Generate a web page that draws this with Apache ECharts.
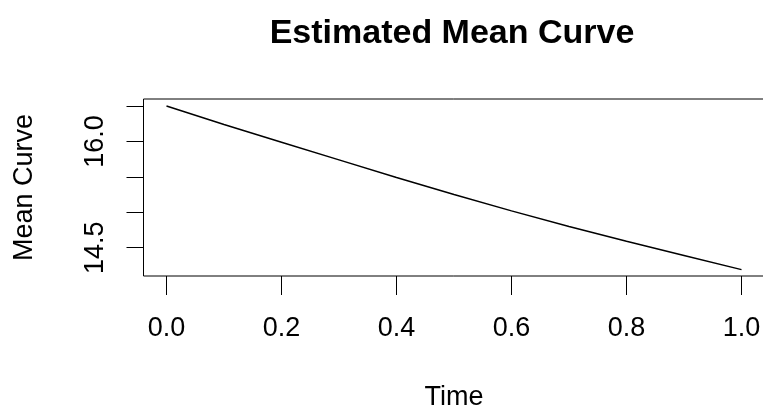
<!DOCTYPE html>
<html>
<head>
<meta charset="utf-8">
<script src="https://cdn.jsdelivr.net/npm/echarts@6/dist/echarts.min.js"></script>
<style>html,body{margin:0;padding:0;background:#fff}#c{width:763px;height:410px}</style>
</head>
<body>
<div id="c"></div>
<script>
const times = [0.0, 0.1, 0.2, 0.3, 0.4, 0.5, 0.6, 0.7, 0.8, 0.9, 1.0];
const means = [16.50, 16.24, 15.99, 15.74, 15.49, 15.25, 15.02, 14.80, 14.59, 14.39, 14.19];
const xTicks = [0.0, 0.2, 0.4, 0.6, 0.8, 1.0];
const yTicks = [14.5, 15.0, 15.5, 16.0, 16.5];
const yLabels = [14.5, 16.0];

const FONT = '"Liberation Sans", Arial, sans-serif';
const chart = echarts.init(document.getElementById('c'), null, {renderer: 'canvas'});
chart.setOption({
  animation: false,
  backgroundColor: '#fff',
  title: {
    text: 'Estimated Mean Curve',
    left: 447, top: 12, textAlign: 'center',
    textStyle: {fontFamily: FONT, fontWeight: 'bold', fontSize: 34, color: '#000'}
  },
  grid: {left: 143.5, right: -1.5, top: 99, bottom: 134, show: true, borderColor: '#000', borderWidth: 1,
         backgroundColor: 'transparent', containLabel: false, outerBoundsMode: 'none'},
  xAxis: {
    type: 'value', min: -0.04, max: 1.04,
    name: 'Time', nameLocation: 'middle', nameGap: 108,
    nameTextStyle: {fontFamily: FONT, fontSize: 27, color: '#000'},
    axisLine: {show: false, onZero: false},
    splitLine: {show: false},
    axisTick: {show: true, inside: false, length: 19, customValues: xTicks, lineStyle: {color: '#000', width: 1}},
    axisLabel: {customValues: xTicks, margin: 39, fontFamily: FONT, fontSize: 27, color: '#000', formatter: v => v.toFixed(1)}
  },
  yAxis: {
    type: 'value', min: 14.1, max: 16.6,
    name: 'Mean Curve', nameLocation: 'middle', nameGap: 105,
    nameTextStyle: {fontFamily: FONT, fontSize: 27, color: '#000'},
    axisLine: {show: false, onZero: false},
    splitLine: {show: false},
    axisTick: {show: true, inside: false, length: 17, customValues: yTicks, lineStyle: {color: '#000', width: 1}},
    axisLabel: {customValues: yLabels, rotate: 90, margin: 34, fontFamily: FONT, fontSize: 27, color: '#000', formatter: v => v.toFixed(1)}
  },
  series: [{
    type: 'line',
    data: times.map((t, i) => [t, means[i]]),
    showSymbol: false,
    lineStyle: {color: '#000', width: 1.5},
    clip: true
  }]
});
</script>
</body>
</html>
